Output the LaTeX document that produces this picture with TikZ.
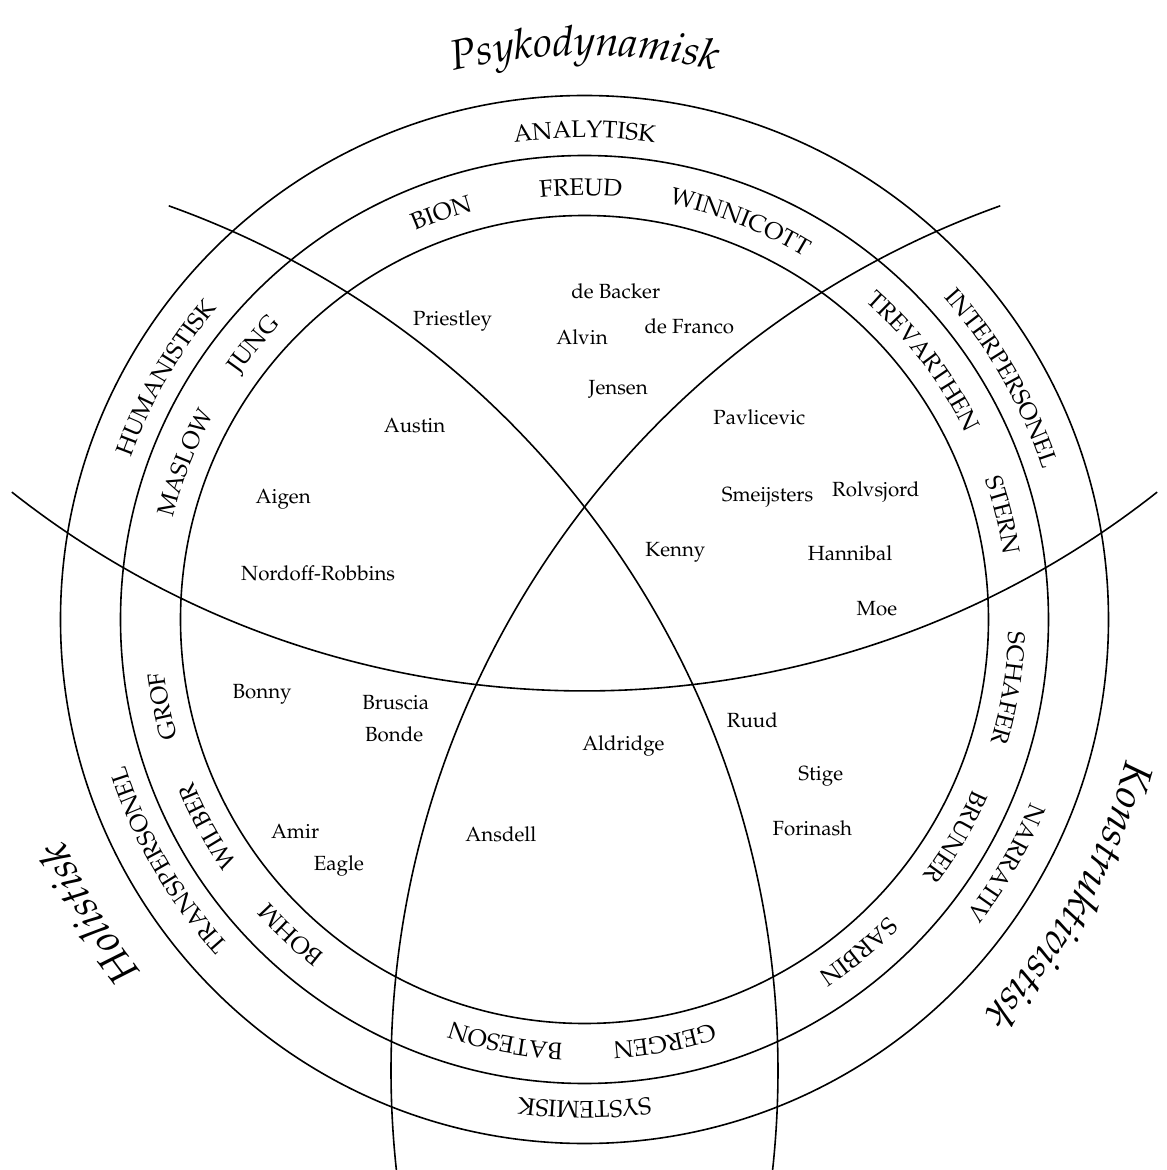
\documentclass[tikz,border=0pt]{standalone}
\usepackage[T1]{fontenc}
\usepackage{mathpazo}
\usetikzlibrary{decorations.text}
\newcommand{\myringfont}{\fontsize{24}{28}\selectfont}
\newcommand{\mynmfont}{\fontsize{20.5}{24}\selectfont}
\newcommand{\mybigfont}{\fontsize{42}{48}\selectfont\itshape}
% angle, baseline radius, half span, font, text
\newcommand{\arclabel}[5]{%
  \path[decorate, decoration={text along path, text align=center, text={|#4|#5}}]
    ({#1+#3}:#2) arc[start angle={#1+#3}, end angle={#1-#3}, radius=#2];}
\begin{document}
\begin{tikzpicture}[x=1pt, y=1pt,
  ring/.style={line width=1.6pt},
  bigarc/.style={line width=1.6pt},
  nm/.style={font=\mynmfont, anchor=base, inner sep=0pt}]
\useasboundingbox (-584.5,-550.5) rectangle (582.5,619.5);
% concentric rings
\draw[ring] (0,0) circle[radius=524];
\draw[ring] (0,0) circle[radius=464];
\draw[ring] (0,0) circle[radius=404];
% three large arcs
\draw[bigarc] (0,852.5) ++(-128.3:924) arc[start angle=-128.3, end angle=-51.7, radius=924];
\draw[bigarc] (725.5,-451.5) ++(109.7:919) arc[start angle=109.7, end angle=186.4, radius=919];
\draw[bigarc] (-725.5,-451.5) ++(70.3:919) arc[start angle=70.3, end angle=-6.4, radius=919];
% outer ring labels
\arclabel{90}{482}{40}{\myringfont}{ANALYTISK}
\arclabel{30}{482}{40}{\myringfont}{INTERPERSONEL}
\arclabel{-30}{482}{40}{\myringfont}{NARRATIV}
\arclabel{-90}{482}{40}{\myringfont}{SYSTEMISK}
\arclabel{-150}{482}{40}{\myringfont}{TRANSPERSONEL}
\arclabel{150}{482}{40}{\myringfont}{HUMANISTISK}
% inner ring labels
\arclabel{90.5}{424}{40}{\myringfont}{FREUD}
\arclabel{109.4}{424}{40}{\myringfont}{BION}
\arclabel{68.6}{424}{40}{\myringfont}{WINNICOTT}
\arclabel{140.3}{424}{40}{\myringfont}{JUNG}
\arclabel{158.6}{424}{40}{\myringfont}{MASLOW}
\arclabel{37.3}{424}{40}{\myringfont}{TREVARTHEN}
\arclabel{14.0}{424}{40}{\myringfont}{STERN}
\arclabel{-9.2}{424}{40}{\myringfont}{SCHAFER}
\arclabel{-30.4}{424}{40}{\myringfont}{BRUNER}
\arclabel{-50.5}{424}{40}{\myringfont}{SARBIN}
\arclabel{-79.3}{424}{40}{\myringfont}{GERGEN}
\arclabel{-100.6}{424}{40}{\myringfont}{BATESON}
\arclabel{-133}{424}{40}{\myringfont}{BOHM}
\arclabel{-151.3}{424}{40}{\myringfont}{WILBER}
\arclabel{-168.4}{424}{40}{\myringfont}{GROF}
% big labels
\arclabel{90}{564}{45}{\mybigfont}{Psykodynamisk}
\arclabel{-149.3}{566}{45}{\mybigfont}{Holistisk}
\arclabel{-29.5}{560}{45}{\mybigfont}{Konstruktivistisk}
% names (image coordinates)
\begin{scope}[shift={(-584.5,619.5)}, yscale=-1]
\node[nm] (priestley) at (452.6,326) {Priestley};
\node[nm] (debacker) at (615.8,298.3) {de Backer};
\node[nm] (alvin) at (582,345) {Alvin};
\node[nm] (defranco) at (689.4,333.3) {de Franco};
\node[nm] (jensen) at (618.2,395) {Jensen};
\node[nm] (austin) at (414.6,432.3) {Austin};
\node[nm] (pavlicevic) at (759.3,425) {Pavlicevic};
\node[nm] (aigen) at (283.2,503.3) {Aigen};
\node[nm] (smeijsters) at (767.5,501.7) {Smeijsters};
\node[nm] (rolvsjord) at (875.8,496.7) {Rolvsjord};
\node[nm] (kenny) at (675.4,556.7) {Kenny};
\node[nm] (hannibal) at (850.1,560.7) {Hannibal};
\node[nm] (nordoff) at (318.2,580) {Nordoff-Robbins};
\node[nm] (moe) at (876.9,615) {Moe};
\node[nm] (bonny) at (262.1,698.3) {Bonny};
\node[nm] (bruscia) at (395.7,709) {Bruscia};
\node[nm] (bonde) at (394.2,741.7) {Bonde};
\node[nm] (ruud) at (752.4,727.7) {Ruud};
\node[nm] (aldridge) at (623.4,750) {Aldridge};
\node[nm] (stige) at (820.8,780) {Stige};
\node[nm] (forinash) at (812.4,835) {Forinash};
\node[nm] (amir) at (295.1,838.3) {Amir};
\node[nm] (ansdell) at (500.9,841.7) {Ansdell};
\node[nm] (eagle) at (338.9,870) {Eagle};
\end{scope}
\end{tikzpicture}
\end{document}
